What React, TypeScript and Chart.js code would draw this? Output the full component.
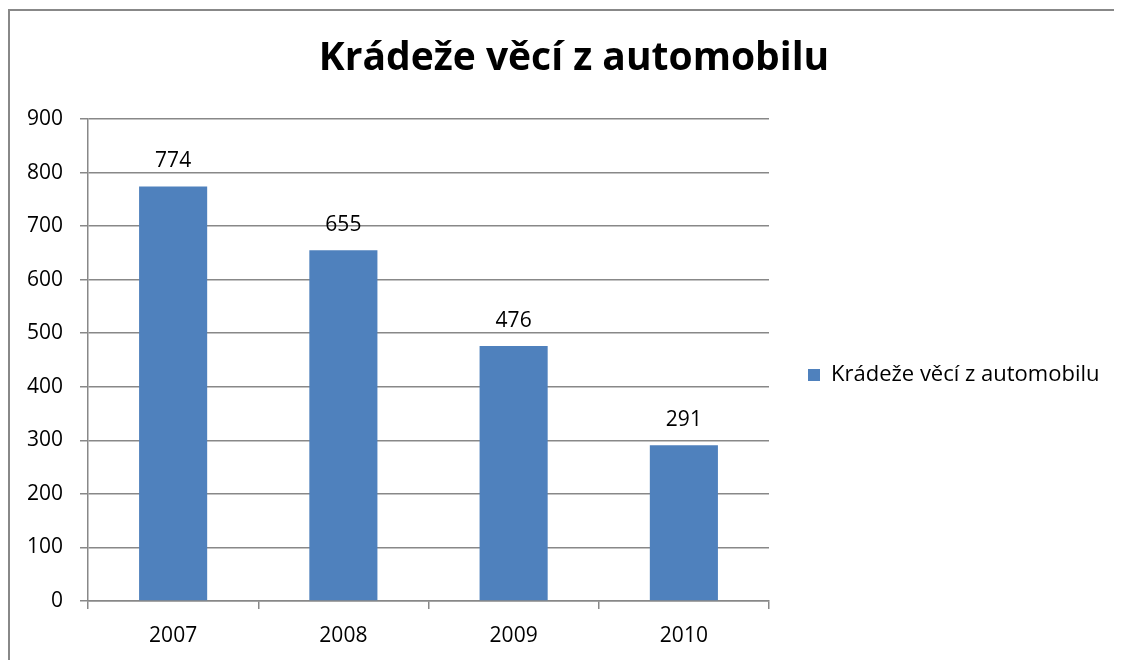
import React, { useEffect, useRef } from "react";
import { Chart, registerables } from "chart.js";

Chart.register(...registerables);

const TITLE = "Krádeže věcí z automobilu";
const SERIES_NAME = "Krádeže věcí z automobilu";
const YEARS = ["2007", "2008", "2009", "2010"];
const THEFTS = [774, 655, 476, 291];
const Y_TICKS = [0, 100, 200, 300, 400, 500, 600, 700, 800, 900];

const FONT = "'Open Sans', Lato, sans-serif";
const GRAY = "#888888";
const BAR = "#4F81BD";

const CANVAS_W = 1112;
const CANVAS_H = 649;
const PLOT_LEFT = 78;
const PLOT_RIGHT = 759;
const PAD_RIGHT = -16;
const LEGEND_FONT = 22;
const LEGEND_PAD = 39;
const LEGEND_BOX = 12;

const valueLabels = {
  id: "valueLabels",
  afterDatasetsDraw(chart: any) {
    const { ctx } = chart;
    const meta = chart.getDatasetMeta(0);
    const data = chart.data.datasets[0].data;
    ctx.save();
    ctx.font = `21px ${FONT}`;
    ctx.fillStyle = "#000";
    ctx.textAlign = "center";
    ctx.textBaseline = "alphabetic";
    meta.data.forEach((el: any, i: number) => {
      ctx.fillText(String(data[i]), el.x, el.y - 19);
    });
    ctx.restore();
  },
};

export default function App() {
  const ref = useRef<HTMLCanvasElement | null>(null);

  useEffect(() => {
    document.documentElement.style.overflow = "hidden";
    document.body.style.overflow = "hidden";
    if (!ref.current) return;
    const mctx = ref.current.getContext("2d")!;
    mctx.font = `${LEGEND_FONT}px ${FONT}`;
    const textW = mctx.measureText(SERIES_NAME).width;
    const legendW = LEGEND_PAD + LEGEND_BOX + LEGEND_FONT / 2 + textW + 10;
    const spacer = Math.max(0, CANVAS_W - PLOT_RIGHT - legendW - PAD_RIGHT);

    const chart = new Chart(ref.current, {
      type: "bar",
      data: {
        labels: YEARS,
        datasets: [
          {
            label: SERIES_NAME,
            data: THEFTS,
            yAxisID: "y",
            xAxisID: "x",
            backgroundColor: BAR,
            borderWidth: 0,
            barPercentage: 0.4,
            categoryPercentage: 1,
          },
        ],
      },
      options: {
        animation: false,
        responsive: false,
        devicePixelRatio: 1,
        layout: { padding: { top: 0, left: 0, right: PAD_RIGHT, bottom: 0 } },
        plugins: {
          title: {
            display: true,
            text: TITLE,
            color: "#000",
            font: { family: FONT, size: 39, weight: "bold", lineHeight: 1.2 },
            padding: { top: 24.6, bottom: 36.6 },
          },
          legend: {
            position: "right",
            fullSize: false,
            maxWidth: 500,
            title: { display: true, text: " ", font: { size: 10, lineHeight: 1 }, padding: 10 },
            labels: {
              boxWidth: LEGEND_BOX,
              boxHeight: LEGEND_BOX,
              color: "#000",
              font: { family: FONT, size: LEGEND_FONT },
              padding: LEGEND_PAD,
            },
          },
          tooltip: { enabled: false },
        },
        scales: {
          x: {
            grid: {
              display: true,
              drawOnChartArea: false,
              drawTicks: true,
              tickLength: 8,
              color: GRAY,
              lineWidth: 1.5,
              offset: true,
            },
            border: { display: true, color: GRAY, width: 1.5 },
            ticks: { color: "#000", font: { family: FONT, size: 21 }, padding: 14 },
            afterFit: (s: any) => {
              s.height = 59;
            },
          },
          y: {
            min: 0,
            max: 900,
            afterBuildTicks: (s: any) => {
              s.ticks = Y_TICKS.map((v) => ({ value: v }));
            },
            ticks: { color: "#000", font: { family: FONT, size: 21 }, padding: 17 },
            grid: { color: GRAY, lineWidth: 1.5, tickLength: 8 },
            border: { color: GRAY, width: 1.5 },
            afterFit: (s: any) => {
              s.width = PLOT_LEFT;
            },
          },
          spacer: {
            type: "linear",
            axis: "y",
            position: "right",
            weight: 2000,
            display: true,
            grid: { display: false, drawTicks: false },
            ticks: { display: false },
            border: { display: false },
            afterFit: (s: any) => {
              s.width = spacer;
            },
          },
        },
      },
      plugins: [valueLabels],
    } as any);
    return () => chart.destroy();
  }, []);

  return (
    <div
      style={{
        position: "relative",
        top: 1,
        borderTop: `2px solid ${GRAY}`,
        borderLeft: `2px solid ${GRAY}`,
        width: 1200,
        height: 700,
        background: "#fff",
      }}
    >
      <canvas ref={ref} width={CANVAS_W} height={CANVAS_H} style={{ display: "block" }} />
    </div>
  );
}
